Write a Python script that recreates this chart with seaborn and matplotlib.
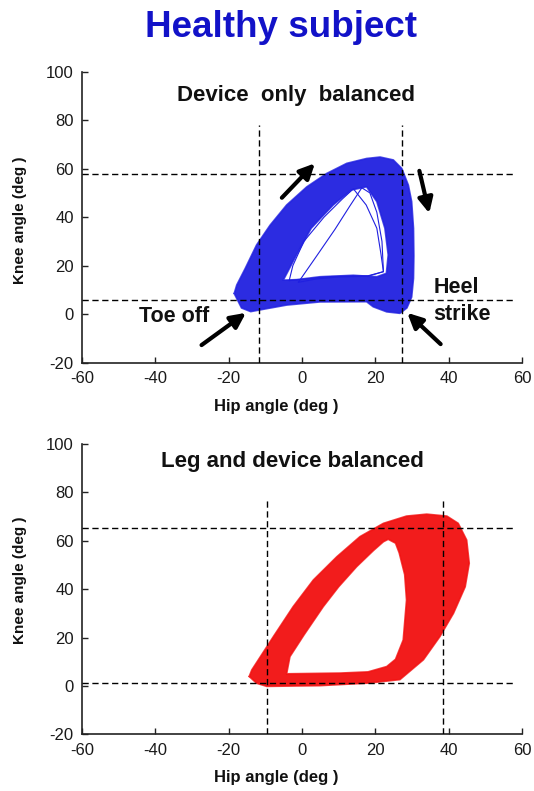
import numpy as np
import matplotlib
matplotlib.use("Agg")
import matplotlib.pyplot as plt
from matplotlib.path import Path
from matplotlib.patches import PathPatch
import seaborn as sns

# ---------------- data ----------------
# Device only balanced (blue): outer and inner edge of the dense band of gait cycles
blue_outer_hip  = [-18.5, -17.8, -15.5, -12.4, -8.7, -4.2, 1.3, 6.7, 12.2, 17.6, 21.3, 24.9, 27.2, 29.0, 29.9,
                   30.4, 30.5, 30.4, 29.9, 28.6, 26.7, 23.1, 19.4, 17.6, 4.9, -4.2, -11.5, -14.0, -16.5]
blue_outer_knee = [8.5, 12.0, 18.8, 28.5, 36.7, 45.0, 52.5, 58.0, 62.2, 64.2, 64.8, 63.6, 60.1, 53.2, 46.4,
                   35.4, 24.0, 14.7, 7.0, 2.5, 0.3, 0.9, 3.0, 5.1, 5.0, 3.7, 1.7, 1.0, 2.5]
blue_inner_hip  = [-5.1, -1.5, 2.5, 8.5, 13.5, 17.6, 20.4, 22.6, 23.5, 23.0, 20.4, 14.0, 4.9, -1.5]
blue_inner_knee = [14.0, 24.4, 35.4, 45.0, 51.2, 52.5, 46.4, 35.4, 24.4, 16.8, 15.4, 16.0, 15.4, 14.2]
# a few isolated cycles crossing the inner triangle
blue_stray1_hip  = [-1.0, 4.0, 9.0, 13.0, 16.3, 18.5, 20.4, 21.8, 22.2, 18.0, 10.0, 4.0, -1.0]
blue_stray1_knee = [13.1, 24.0, 35.0, 44.5, 52.1, 50.0, 42.0, 30.0, 17.5, 15.6, 15.3, 14.5, 13.1]
blue_stray2_hip  = [-3.5, -2.5, 0.5, 6.0, 11.0, 14.0, 17.5, 20.4, 21.5, 22.2, 18.0, 8.0, -3.5]
blue_stray2_knee = [13.8, 20.0, 30.0, 40.0, 47.5, 51.7, 45.0, 35.4, 25.0, 17.5, 15.8, 15.5, 13.8]

# Leg and device balanced (red)
red_outer_hip  = [-14.4, -13.7, -11.9, -7.8, -2.4, 3.1, 9.5, 15.8, 22.2, 28.5, 34.0, 39.5, 42.6, 44.9, 45.6,
                  44.5, 41.3, 37.6, 33.1, 26.7, 18.5, 4.9, -9.6, -12.4]
red_outer_knee = [3.9, 6.6, 10.8, 20.4, 32.8, 43.8, 53.4, 61.7, 67.2, 70.2, 71.0, 70.2, 67.2, 60.3, 50.7,
                  41.0, 30.0, 20.4, 10.8, 2.6, 1.2, 0.1, -0.2, 1.1]
red_inner_hip  = [-4.2, -3.3, 0.5, 5.8, 10.0, 14.9, 19.5, 22.2, 23.5, 25.5, 26.5, 28.0, 28.5, 27.6, 25.5,
                  23.1, 18.0, 10.4]
red_inner_knee = [5.0, 12.1, 21.0, 32.8, 41.0, 49.3, 56.0, 59.6, 60.6, 59.0, 55.0, 46.0, 35.5, 19.0, 11.0,
                  8.0, 5.8, 5.3]

# dashed reference lines
top_vlines, top_hlines = [-11.6, 27.2], [57.8, 5.6]
bot_vlines, bot_hlines = [-9.6, 38.4], [65.4, 1.4]

# arrows (tail -> tip) in the top panel
arrow_tails = [(-5.5, 48.0), (32.0, 59.1), (-27.4, -12.8), (37.8, -12.4)]
arrow_tips  = [(3.5, 62.2), (34.7, 41.6), (-15.3, 0.5), (28.7, 0.5)]

x_ticks = [-60, -40, -20, 0, 20, 40, 60]
y_ticks = [-20, 0, 20, 40, 60, 80, 100]

BLUE = "#2020e0"
RED = "#f20f0f"

# ---------------- style ----------------
sns.set_theme(style="ticks")
plt.rcParams["font.family"] = ["Liberation Sans", "DejaVu Sans"]
plt.rcParams["axes.unicode_minus"] = False

fig = plt.figure(figsize=(5.34, 7.91), dpi=100)
ax1 = fig.add_axes([0.1536, 0.5417, 0.8240, 0.3676])
ax2 = fig.add_axes([0.1536, 0.0717, 0.8240, 0.3670])


def band(ax, ox, oy, ix, iy, color):
    outer = np.column_stack([ox, oy])
    inner = np.column_stack([ix, iy])[::-1]
    p = Path.make_compound_path(Path(np.vstack([outer, outer[:1]]), closed=True),
                                Path(np.vstack([inner, inner[:1]]), closed=True))
    ax.add_patch(PathPatch(p, facecolor=color, edgecolor="none", alpha=0.95, zorder=2))
    for xs, ys in ((ox, oy), (ix, iy)):
        sns.lineplot(x=list(xs) + [xs[0]], y=list(ys) + [ys[0]], sort=False, estimator=None,
                     ax=ax, color=color, lw=1.2, alpha=0.8, zorder=3)


def style_axes(ax, vl, hl, vtop):
    ax.set_xlim(-60, 60)
    ax.set_ylim(-20, 100)
    ax.set_xticks(x_ticks)
    ax.set_yticks(y_ticks)
    sns.despine(ax=ax)
    for s in ("left", "bottom"):
        ax.spines[s].set_linewidth(1.2)
        ax.spines[s].set_color("#222222")
    ax.tick_params(direction="in", length=4, width=1.0, labelsize=12, pad=6,
                   colors="#222222", labelcolor="#1a1a1a")
    for v in vl:
        ax.plot([v, v], [-20, vtop], ls=(0, (4.5, 2.6)), color="black", lw=1.0, zorder=5)
    for h in hl:
        ax.plot([-60, 58], [h, h], ls=(0, (4.5, 2.6)), color="black", lw=1.0, zorder=5)
    ax.set_xlabel("Hip angle (deg )", fontsize=12, fontweight="bold", va="center",
                  color="#111111")
    ax.xaxis.set_label_coords(0.441, -0.15)
    ax.set_ylabel("Knee angle (deg )", fontsize=11, fontweight="bold", va="center",
                  color="#111111")
    ax.grid(False)


# top panel
band(ax1, blue_outer_hip, blue_outer_knee, blue_inner_hip, blue_inner_knee, BLUE)
for xs, ys in ((blue_stray1_hip, blue_stray1_knee), (blue_stray2_hip, blue_stray2_knee)):
    sns.lineplot(x=xs, y=ys, sort=False, estimator=None, ax=ax1, color=BLUE, lw=0.8, zorder=3)
style_axes(ax1, top_vlines, top_hlines, 78)
ax1.yaxis.set_label_coords(-0.1416, 0.49)
ax1.text(-1.7, 87.9, "Device  only  balanced", ha="center", va="baseline",
         fontsize=16, fontweight="bold", color="#111111")
ax1.text(-34.9, -3.2, "Toe off", ha="center", va="baseline", fontsize=15.5,
         fontweight="bold", color="#111111")
ax1.text(35.8, 8.5, "Heel", ha="left", va="baseline", fontsize=15.5,
         fontweight="bold", color="#111111")
ax1.text(35.8, -2.5, "strike", ha="left", va="baseline", fontsize=15.5,
         fontweight="bold", color="#111111")
for t, h in zip(arrow_tails, arrow_tips):
    ax1.annotate("", xy=h, xytext=t,
                 arrowprops=dict(arrowstyle="-|>,head_length=0.45,head_width=0.22",
                                 lw=3.0, color="black", shrinkA=0, shrinkB=0,
                                 mutation_scale=20), zorder=6)

# bottom panel
band(ax2, red_outer_hip, red_outer_knee, red_inner_hip, red_inner_knee, RED)
style_axes(ax2, bot_vlines, bot_hlines, 77)
ax2.yaxis.set_label_coords(-0.1416, 0.53)
ax2.text(-2.6, 90.5, "Leg and device balanced", ha="center", va="baseline",
         fontsize=16, fontweight="bold", color="#111111")

fig.text(280.8 / 534, 1 - 36.7 / 791, "Healthy subject", ha="center", va="baseline",
         fontsize=26.5, fontweight="bold", color="#1212c8")

fig.savefig("out.png", dpi=100)
